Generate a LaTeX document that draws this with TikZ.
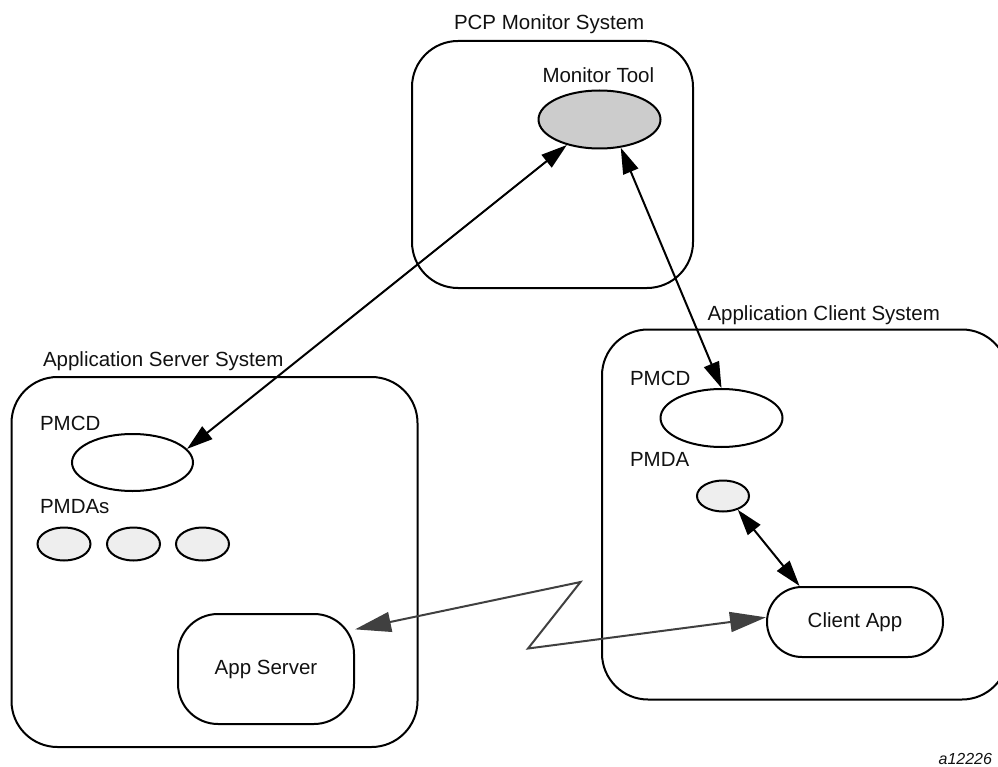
\documentclass[tikz,border=0pt]{standalone}
\usepackage{fontspec}
\setmainfont{Liberation Sans}
\usepackage{tikz}
\usetikzlibrary{shapes.geometric,arrows.meta}
\definecolor{FontColor}{HTML}{111111}
\definecolor{ToolGray}{HTML}{CCCCCC}
\definecolor{AgentGray}{HTML}{EEEEEE}
\definecolor{LinkGray}{HTML}{404040}
\newcommand\nodepcp{PCP Monitor System}
\newcommand\nodemt{Monitor Tool}
\newcommand\nodeass{Application Server System}
\newcommand\nodeacs{Application Client System}
\newcommand\nodepmcd{PMCD}
\newcommand\nodepmdas{PMDAs}
\newcommand\nodepmda{PMDA}
\newcommand\nodeas{App Server}
\newcommand\nodeca{Client App}
\newcommand\nodefig{a12226}
\tikzstyle{mytext} = [font=\fontsize{20.5}{24}\selectfont, text=FontColor, inner sep=0pt]
\tikzstyle{lbl} = [mytext, anchor=base west]
\tikzstyle{sys} = [rectangle, rounded corners=46pt, draw=black, line width=2pt]
\tikzstyle{ell} = [ellipse, draw=black, line width=2pt, inner sep=0pt]
\tikzstyle{app} = [mytext, rectangle, draw=black, line width=2pt]
\tikzstyle{zz} = [draw=LinkGray, {Triangle[length=36pt,width=20pt]}-{Triangle[length=36pt,width=20pt]}]
\tikzset{>={Triangle[length=26pt,width=16pt]}, every picture/.style={line width=2pt}}

\begin{document}
\begin{tikzpicture}[x=1pt, y=-1pt]
\useasboundingbox (0,0) rectangle (998,767);
\clip (0,0) rectangle (998,767);
\node[sys, minimum width=281pt, minimum height=247pt] (pcp) at (552.5,164.5) {};
\node[sys, minimum width=406pt, minimum height=370pt] (ass) at (214.5,562) {};
\node[sys, minimum width=406pt, minimum height=370pt] (acs) at (805,514.5) {};
\node[lbl] (pcpl) at (453,29.5) {\nodepcp};
\node[lbl] (mtl) at (541.5,83) {\nodemt};
\node[lbl] (assl) at (42,366) {\nodeass};
\node[lbl] (acsl) at (706.5,320.5) {\nodeacs};
\node[lbl] (pmcdsl) at (39,430.5) {\nodepmcd};
\node[lbl] (pmdasl) at (39,513) {\nodepmdas};
\node[lbl] (pmcdcl) at (629,385) {\nodepmcd};
\node[lbl] (pmdacl) at (629,466) {\nodepmda};
\node[ell, fill=ToolGray, minimum width=122pt, minimum height=58pt] (mt) at (599.5,119.5) {};
\node[ell, minimum width=121pt, minimum height=57pt] (pmcds) at (132.5,462.5) {};
\node[ell, fill=AgentGray, minimum width=53pt, minimum height=33pt] (pmda1) at (64,544) {};
\node[ell, fill=AgentGray, minimum width=53pt, minimum height=33pt] (pmda2) at (133.5,544) {};
\node[ell, fill=AgentGray, minimum width=53pt, minimum height=33pt] (pmda3) at (202.5,544) {};
\node[ell, minimum width=122pt, minimum height=58pt] (pmcdc) at (721.5,418) {};
\node[ell, fill=AgentGray, minimum width=52pt, minimum height=31pt] (pmdac) at (723,496) {};
\node[app, rounded corners=40pt, minimum width=176pt, minimum height=110pt] (as) at (266,669) {\nodeas};
\node[app, rounded corners=35pt, minimum width=176pt, minimum height=70pt] (ca) at (855,622) {\nodeca};
\node[mytext, anchor=base east, font=\fontsize{16}{19}\selectfont\itshape] (fig) at (993,764) {\nodefig};
\coordinate (zz1) at (580.5,582);
\coordinate (zz2) at (528,648.5);
\draw [<->] (mt.218) -- (pmcds.14);
\draw [<->] (mt.307) -- (pmcdc.north);
\draw [<->] (pmdac.317) -- (ca.147);
\draw [zz] (as.24) -- (zz1) -- (zz2) -- (ca.177);
\end{tikzpicture}
\end{document}
